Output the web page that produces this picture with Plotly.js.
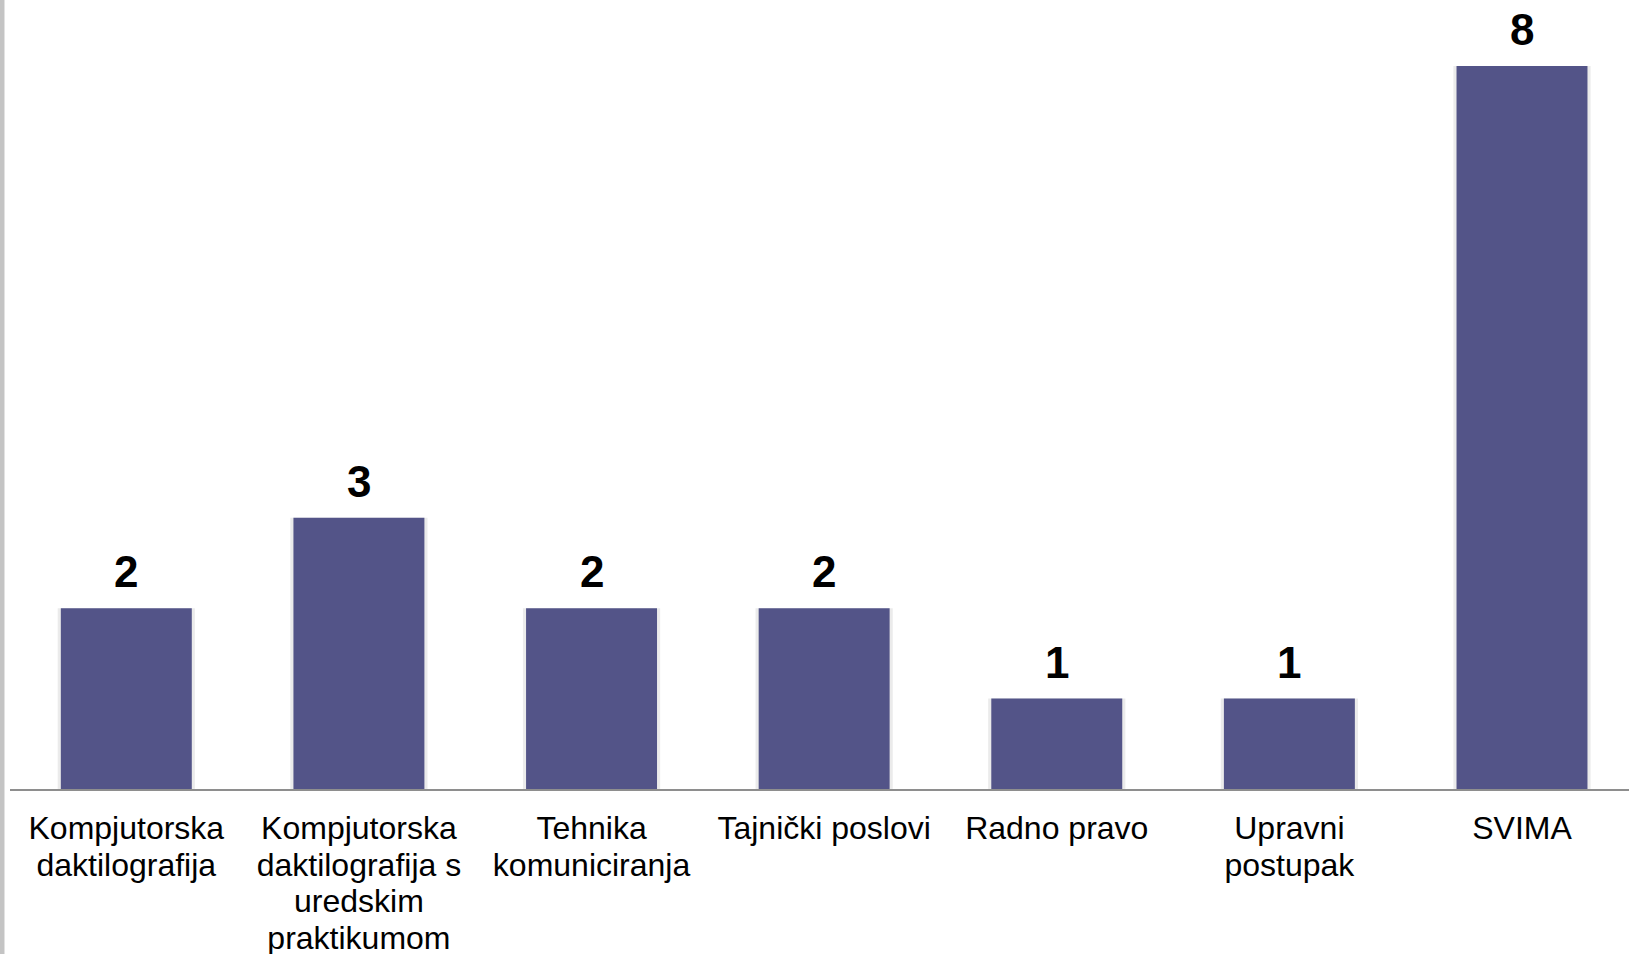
<!DOCTYPE html>
<html>
<head>
<meta charset="utf-8">
<script src="https://cdn.plot.ly/plotly-3.0.1.min.js"></script>
<style>
html,body{margin:0;padding:0;background:#fff;overflow:hidden;}
#chart{position:absolute;left:0;top:0;width:1629px;height:954px;}
#edge{position:absolute;left:0;top:0;width:4px;height:954px;background:#c4c4c4;border-right:1px solid #e2e2e2;z-index:5;}
</style>
</head>
<body>
<div id="edge"></div>
<div id="chart"></div>
<script>
const categories = [
  "Kompjutorska<br>daktilografija",
  "Kompjutorska<br>daktilografija s<br>uredskim<br>praktikumom",
  "Tehnika<br>komuniciranja",
  "Tajnički poslovi",
  "Radno pravo",
  "Upravni<br>postupak",
  "SVIMA"
];
const values = [2, 3, 2, 2, 1, 1, 8];
const valueLabels = ["2", "3", "2", "2", "1", "1", "8"];

const font = "Liberation Sans, Arial, sans-serif";

const shadow = {
  type: "bar", x: categories, y: values, width: 0.59,
  marker: {color: "rgba(0,0,0,0.08)", line: {width: 0}},
  hoverinfo: "skip", showlegend: false
};
const bars = {
  type: "bar", x: categories, y: values, width: 0.563,
  marker: {color: "#535488", line: {width: 0}},
  showlegend: false
};

const annotations = categories.map((c, i) => ({
  x: c, y: values[i], xref: "x", yref: "y",
  text: "<b>" + valueLabels[i] + "</b>",
  showarrow: false, yanchor: "bottom", yshift: 10,
  font: {family: font, size: 44, color: "#000"}
}));

const layout = {
  width: 1629, height: 954,
  margin: {l: 10, r: 0, t: 0, b: 165},
  paper_bgcolor: "#fff", plot_bgcolor: "#fff",
  barmode: "overlay",
  xaxis: {
    type: "category", range: [-0.5, 6.46],
    showline: true, linecolor: "#8e8e8e", linewidth: 2,
    ticks: "", showgrid: false, zeroline: false,
    tickfont: {family: font, size: 32, color: "#000"},
    ticklabelstandoff: 10,
    tickangle: 0, automargin: false
  },
  yaxis: {
    range: [0, 8.73], visible: false, showgrid: false, zeroline: false, fixedrange: true
  },
  annotations: annotations,
  font: {family: font}
};

Plotly.newPlot("chart", [shadow, bars], layout, {displayModeBar: false, staticPlot: true}).then(function (gd) {
  // tighten multi-line tick label spacing (1.3em -> 1.14em)
  const k = 1.14 / 1.3;
  gd.querySelectorAll(".xtick text tspan.line").forEach(function (t) {
    const dy = t.getAttribute("dy");
    if (dy && dy.indexOf("em") > 0) {
      const v = parseFloat(dy);
      if (!isNaN(v)) t.setAttribute("dy", (v * k) + "em");
    }
  });
});
</script>
</body>
</html>
